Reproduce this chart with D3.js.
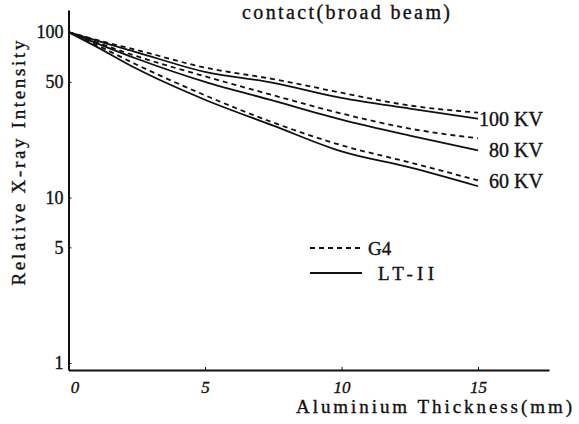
<!DOCTYPE html>
<html>
<head>
<meta charset="utf-8">
<script src="https://cdn.jsdelivr.net/npm/d3@7"></script>
<style>
  html, body { margin: 0; padding: 0; background: #fff; }
  svg, svg text { font-family: 'Liberation Serif', Tinos, 'DejaVu Serif', serif; fill: #111; }
  svg text { stroke: #111; stroke-width: 0.35px; }
  .axis path, .axis line { stroke: #111; }
  .curve { fill: none; stroke: #111; stroke-width: 1.8; }
  .g4 { stroke-dasharray: 5 4; }
</style>
</head>
<body>
<div id="root"></div>
<script>
// aluminium thickness (mm)
const thickness = [0, 1, 2.5, 5, 7.5, 10, 12.5, 15];
// relative x-ray intensity, G4 (dashed) and LT-II (solid)
const g4_100 = [100, 90, 78, 61, 52, 43, 36, 32.6];
const lt_100 = [100, 89, 75.5, 57.5, 49.4, 40, 34.5, 30];
const g4_80 = [100, 87, 71.5, 54, 41.5, 32.2, 26.1, 22.8];
const lt_80 = [100, 86, 69, 50, 38.5, 29.6, 23.7, 19.3];
const g4_60 = [100, 84, 63.5, 41.5, 28.4, 20.7, 16.3, 12.7];
const lt_60 = [100, 82, 60, 39, 27.2, 19, 15.2, 11.7];

const kvLabels = ['100 KV', '80 KV', '60 KV'];
const xTicks = [0, 5, 10, 15];
const yTicks = [1, 5, 10, 50, 100];

const width = 579;
const height = 424;
const serif = "'Liberation Serif', Tinos, 'DejaVu Serif', serif";

const svg = d3.select('#root').append('svg')
  .attr('width', width)
  .attr('height', height)
  .attr('font-family', serif);

const x = d3.scaleLinear()
  .domain([0, 17.6])
  .range([68.5, 549]);

const y = d3.scaleLog()
  .domain([0.907, 136])
  .range([370, 10]);

// axes
const xAxis = d3.axisBottom(x)
  .tickValues(xTicks)
  .tickFormat(d3.format('d'))
  .tickSize(-3)
  .tickSizeOuter(0)
  .tickPadding(11);

const gx = svg.append('g')
  .attr('class', 'axis')
  .attr('transform', `translate(0, ${y.range()[0]})`)
  .call(xAxis)
  .attr('font-family', serif);
gx.select('.domain').attr('stroke-width', 2);
gx.selectAll('.tick text')
  .attr('font-size', 17)
  .attr('font-style', 'italic')
  .attr('dx', d => d === 0 ? 6 : 0);
gx.selectAll('.tick line').filter(d => d === 0).remove();

const yAxis = d3.axisLeft(y)
  .tickValues(yTicks)
  .tickFormat(d3.format('d'))
  .tickSize(-3)
  .tickSizeOuter(0)
  .tickPadding(5);

const gy = svg.append('g')
  .attr('class', 'axis')
  .attr('transform', `translate(${x.range()[0]}, 0)`)
  .call(yAxis)
  .attr('font-family', serif);
gy.select('.domain').attr('stroke-width', 2);
gy.selectAll('.tick text').attr('font-size', 18);

// curves
const series = [
  { values: g4_100, cls: 'g4' },
  { values: lt_100, cls: 'lt' },
  { values: g4_80, cls: 'g4' },
  { values: lt_80, cls: 'lt' },
  { values: g4_60, cls: 'g4' },
  { values: lt_60, cls: 'lt' },
];

const line = d3.line()
  .x((d, i) => x(thickness[i]))
  .y(d => y(d))
  .curve(d3.curveMonotoneX);

svg.selectAll('path.curve')
  .data(series)
  .enter()
  .append('path')
  .attr('class', d => `curve ${d.cls}`)
  .attr('d', d => line(d.values));

// kV labels at the ends of the curves
const kvBaselines = [126, 157, 188];
svg.selectAll('text.kv')
  .data(kvLabels)
  .enter()
  .append('text')
  .attr('class', 'kv')
  .attr('x', 543)
  .attr('y', (d, i) => kvBaselines[i])
  .attr('text-anchor', 'end')
  .attr('font-size', 20)
  .text(d => d);

// title
svg.append('text')
  .attr('x', 242)
  .attr('y', 19)
  .attr('font-size', 20)
  .attr('textLength', 208)
  .attr('lengthAdjust', 'spacing')
  .text('contact(broad beam)');

// axis titles
svg.append('text')
  .attr('transform', 'translate(25, 163) rotate(-90)')
  .attr('text-anchor', 'middle')
  .attr('font-size', 19)
  .attr('textLength', 245)
  .attr('lengthAdjust', 'spacing')
  .text('Relative X-ray Intensity');

svg.append('text')
  .attr('x', 296)
  .attr('y', 413)
  .attr('font-size', 19)
  .attr('textLength', 276)
  .attr('lengthAdjust', 'spacing')
  .text('Aluminium Thickness(mm)');

// legend
const legend = svg.append('g');
legend.append('line')
  .attr('class', 'curve g4')
  .attr('x1', 310).attr('x2', 362)
  .attr('y1', 248).attr('y2', 248);
legend.append('text')
  .attr('x', 368).attr('y', 255)
  .attr('font-size', 19)
  .text('G4');
legend.append('line')
  .attr('class', 'curve lt')
  .attr('x1', 310).attr('x2', 362)
  .attr('y1', 273).attr('y2', 273);
legend.append('text')
  .attr('x', 378).attr('y', 280)
  .attr('font-size', 19)
  .attr('textLength', 56)
  .attr('lengthAdjust', 'spacing')
  .text('LT-II');
</script>
</body>
</html>
